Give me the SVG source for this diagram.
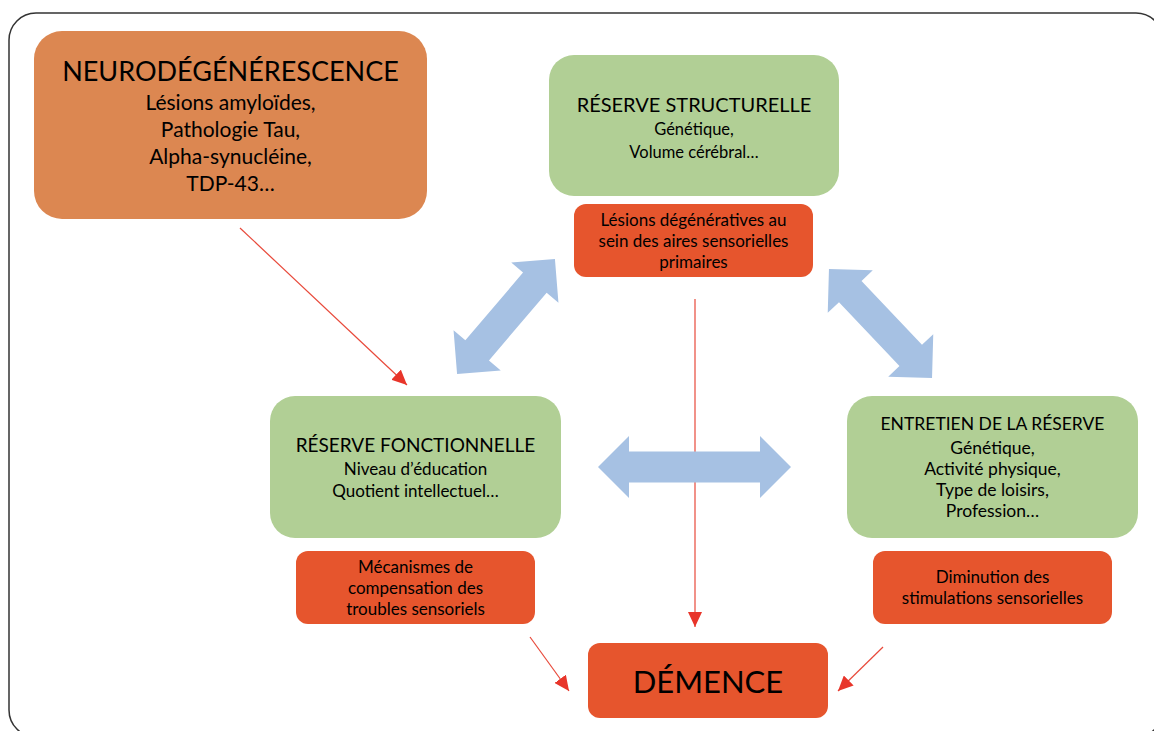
<svg xmlns="http://www.w3.org/2000/svg" width="1154" height="731" viewBox="0 0 1154 731">
<style>
text{font-family:Lato,"Open Sans","Liberation Sans",sans-serif;fill:#000;text-anchor:middle}
.t{font-size:21px}
.h{font-size:20px}
.s{font-size:17px}
.big{font-size:27px}
.orange{fill:#DC8751}
.green{fill:#B1CF95}
.red{fill:#E6552D}
.blue{fill:#A6C1E3}
.con{stroke:#E8493A;stroke-width:1.2;fill:none;marker-end:url(#ah)}
</style>
<defs>
<marker id="ah" markerUnits="userSpaceOnUse" markerWidth="16" markerHeight="14" refX="15" refY="7" orient="auto">
<path d="M0,0 L15,7 L0,14 z" fill="#E8352A"/>
</marker>
</defs>
<rect x="9" y="13" width="1154" height="724" rx="27" fill="#fff" stroke="#333" stroke-width="1.5"/>
<g id="connectors">
<line class="con" x1="240" y1="228" x2="407" y2="385"/>
<line class="con" x1="695" y1="299" x2="695" y2="627"/>
<line class="con" x1="530" y1="637" x2="569" y2="691"/>
<line class="con" x1="883" y1="647" x2="838" y2="691"/>
<polygon class="blue" transform="translate(694.5,467)" points="-96.5,0 -65.5,-31 -65.5,-15.5 65.5,-15.5 65.5,-31 96.5,0 65.5,31 65.5,15.5 -65.5,15.5 -65.5,31"/>
<polygon class="blue" transform="translate(506,316.5) rotate(-49.6)" points="-75.5,0 -44.5,-31 -44.5,-15.5 44.5,-15.5 44.5,-31 75.5,0 44.5,31 44.5,15.5 -44.5,15.5 -44.5,31"/>
<polygon class="blue" transform="translate(880.5,323.5) rotate(46.6)" points="-75,0 -44,-31 -44,-15.5 44,-15.5 44,-31 75,0 44,31 44,15.5 -44,15.5 -44,31"/>
</g>
<g id="neuro">
<rect class="orange" x="34" y="31" width="393" height="188" rx="28"/>
<text class="big" x="230.5" y="81">NEURODÉGÉNÉRESCENCE</text>
<text class="t" x="230.5" y="110">Lésions amyloïdes,</text>
<text class="t" x="230.5" y="137">Pathologie Tau,</text>
<text class="t" x="230.5" y="164">Alpha-synucléine,</text>
<text class="t" x="230.5" y="191">TDP-43…</text>
</g>
<g id="structurelle">
<rect class="green" x="549" y="55" width="290" height="141" rx="25"/>
<text class="h" x="694" y="112">RÉSERVE STRUCTURELLE</text>
<text class="s" x="694" y="135" style="font-size:16.5px">Génétique,</text>
<text class="s" x="694" y="158" style="font-size:16.5px">Volume cérébral…</text>
</g>
<g id="lesions">
<rect class="red" x="574" y="204" width="239" height="73" rx="12"/>
<text class="s" x="693.5" y="226">Lésions dégénératives au</text>
<text class="s" x="693.5" y="247">sein des aires sensorielles</text>
<text class="s" x="693.5" y="268">primaires</text>
</g>
<g id="fonctionnelle">
<rect class="green" x="270" y="396" width="291" height="142" rx="25"/>
<text class="h" x="415.5" y="452" style="font-size:19px">RÉSERVE FONCTIONNELLE</text>
<text class="s" x="415.5" y="475">Niveau d’éducation</text>
<text class="s" x="415.5" y="497">Quotient intellectuel…</text>
</g>
<g id="mecanismes">
<rect class="red" x="296" y="551" width="239" height="73" rx="12"/>
<text class="s" x="415.5" y="573">Mécanismes de</text>
<text class="s" x="415.5" y="594">compensation des</text>
<text class="s" x="415.5" y="615">troubles sensoriels</text>
</g>
<g id="entretien">
<rect class="green" x="847" y="396" width="291" height="142" rx="25"/>
<text class="h" x="992.5" y="430" style="font-size:17.5px">ENTRETIEN DE LA RÉSERVE</text>
<text class="s" x="992.5" y="454" style="font-size:17.5px">Génétique,</text>
<text class="s" x="992.5" y="475" style="font-size:17.5px">Activité physique,</text>
<text class="s" x="992.5" y="496" style="font-size:17.5px">Type de loisirs,</text>
<text class="s" x="992.5" y="517" style="font-size:17.5px">Profession…</text>
</g>
<g id="diminution">
<rect class="red" x="873" y="551" width="239" height="73" rx="12"/>
<text class="s" x="992.5" y="583">Diminution des</text>
<text class="s" x="992.5" y="604">stimulations sensorielles</text>
</g>
<g id="demence">
<rect class="red" x="588" y="643" width="240" height="75" rx="12"/>
<text x="708" y="693" style="font-size:31px">DÉMENCE</text>
</g>
</svg>
